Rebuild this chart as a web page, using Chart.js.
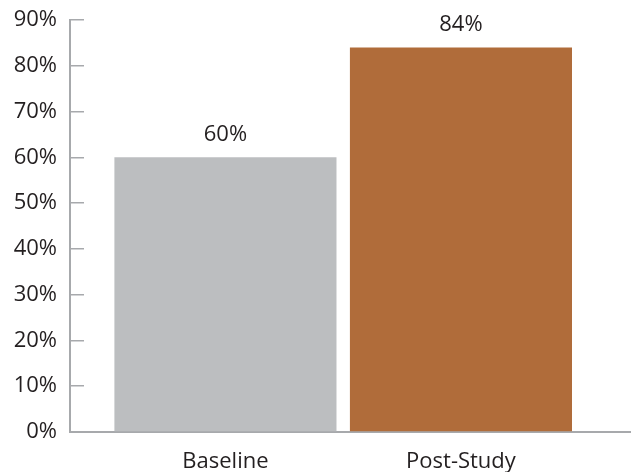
<!DOCTYPE html>
<html>
<head>
<meta charset="utf-8">
<script src="https://cdn.jsdelivr.net/npm/chart.js@4.4.1/dist/chart.umd.min.js"></script>
<style>
  html, body { margin: 0; padding: 0; background: #ffffff; }
  #wrap { width: 631px; height: 472px; }
</style>
</head>
<body>
<div id="wrap"><canvas id="c" width="631" height="472"></canvas></div>
<script>
// Chart data
const categories = ['Baseline', 'Post-Study'];
const percentValues = [60, 84];
const barColors = ['#bcbec0', '#b06c3a'];
const yTickValues = [0, 10, 20, 30, 40, 50, 60, 70, 80, 90];

const FONT = '"Open Sans", "DejaVu Sans", sans-serif';
const FONT_SIZE = 22;
const TEXT_COLOR = '#231f20';
const AXIS_COLOR = '#a7a9ac';

// Value labels above each bar
const valueLabels = {
  id: 'valueLabels',
  afterDatasetsDraw(chart) {
    const ctx = chart.ctx;
    const meta = chart.getDatasetMeta(0);
    ctx.save();
    ctx.font = FONT_SIZE + 'px ' + FONT;
    ctx.fillStyle = TEXT_COLOR;
    ctx.textAlign = 'center';
    ctx.textBaseline = 'alphabetic';
    meta.data.forEach((bar, i) => {
      ctx.fillText(percentValues[i] + '%', bar.x, bar.y - 16);
    });
    ctx.restore();
  }
};

new Chart(document.getElementById('c'), {
  type: 'bar',
  data: {
    datasets: [{
      data: percentValues.map((v, i) => ({ x: i, y: v })),
      backgroundColor: barColors,
      borderWidth: 0,
      barPercentage: 0.943,
      categoryPercentage: 1.0
    }]
  },
  options: {
    responsive: false,
    animation: false,
    devicePixelRatio: 1,
    layout: { padding: { top: 0, right: 0, left: 0, bottom: 0 } },
    plugins: {
      legend: { display: false },
      tooltip: { enabled: false }
    },
    scales: {
      x: {
        type: 'linear',
        offset: false,
        bounds: 'data',
        min: -0.66,
        max: 1.722,
        afterBuildTicks(scale) {
          scale.ticks = categories.map((c, i) => ({ value: i }));
        },
        afterFit(scale) { scale.height = 40; },
        ticks: {
          autoSkip: false,
          maxRotation: 0,
          padding: 17,
          color: TEXT_COLOR,
          font: { family: FONT, size: FONT_SIZE },
          callback: (v) => categories[v] ?? ''
        },
        grid: { display: true, offset: false, drawOnChartArea: false, drawTicks: false },
        border: { display: true, color: AXIS_COLOR, width: 2 }
      },
      y: {
        min: 0,
        max: 90,
        afterBuildTicks(scale) {
          scale.ticks = yTickValues.map(v => ({ value: v }));
        },
        afterFit(scale) {
          scale.width = 70;
          scale.paddingTop = 20;
          scale.paddingBottom = 0;
        },
        ticks: {
          padding: 27,
          color: TEXT_COLOR,
          font: { family: FONT, size: FONT_SIZE },
          callback: (v) => v + '%'
        },
        grid: {
          drawOnChartArea: false,
          drawTicks: true,
          tickLength: -14,
          color: AXIS_COLOR,
          lineWidth: 1.5
        },
        border: { display: true, color: AXIS_COLOR, width: 2 }
      }
    }
  },
  plugins: [valueLabels]
});
</script>
</body>
</html>
